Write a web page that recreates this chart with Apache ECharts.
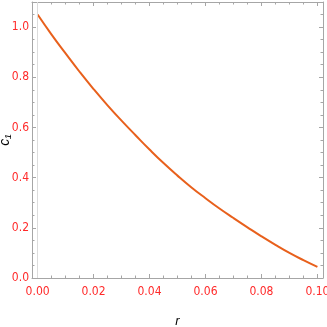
<!DOCTYPE html>
<html>
<head>
<meta charset="utf-8">
<script src="https://cdn.jsdelivr.net/npm/echarts@6/dist/echarts.min.js"></script>
<style>html,body{margin:0;padding:0;background:#fff}#c{width:327px;height:327px}</style>
</head>
<body>
<div id="c"></div>
<script>
// r values (x) and c1 values (y)
const rVals = [0, 0.005, 0.01, 0.015, 0.02, 0.025, 0.03, 0.035, 0.04, 0.045, 0.05, 0.055, 0.06, 0.065, 0.07, 0.075, 0.08, 0.085, 0.09, 0.095, 0.1];
const c1Vals = [1.050, 0.970, 0.895, 0.822, 0.753, 0.688, 0.627, 0.569, 0.512, 0.458, 0.408, 0.361, 0.318, 0.277, 0.239, 0.202, 0.166, 0.132, 0.100, 0.071, 0.044];

const xMajor = [0, 0.02, 0.04, 0.06, 0.08, 0.10];
const xMinor = [0.005, 0.01, 0.015, 0.025, 0.03, 0.035, 0.045, 0.05, 0.055, 0.065, 0.07, 0.075, 0.085, 0.09, 0.095];
const yMajor = [0, 0.2, 0.4, 0.6, 0.8, 1.0];
const yMinor = [0.05, 0.1, 0.15, 0.25, 0.3, 0.35, 0.45, 0.5, 0.55, 0.65, 0.7, 0.75, 0.85, 0.9, 0.95, 1.05];

const frameColor = '#a6a6a6';
const labelColor = '#ff2a2a';
const labelFont = "'Liberation Sans Narrow','DejaVu Sans Condensed','Liberation Sans',sans-serif";
const X_MIN = -0.002, X_MAX = 0.102, Y_MIN = 0, Y_MAX = 1.1;

function xAx(pos, vals, len, showLine, showLabel, extra) {
  return Object.assign({
    type: 'value', position: pos, min: X_MIN, max: X_MAX, gridIndex: 0,
    axisLine: {show: showLine, onZero: false, lineStyle: {color: frameColor, width: 1}},
    axisTick: {show: true, inside: true, length: len, customValues: vals, lineStyle: {color: frameColor}},
    axisLabel: showLabel ? {show: true, customValues: vals, color: labelColor, fontSize: 12, fontFamily: labelFont, margin: 8, formatter: v => v.toFixed(2)} : {show: false},
    splitLine: {show: false}
  }, extra || {});
}
function yAx(pos, vals, len, showLine, showLabel, extra) {
  return Object.assign({
    type: 'value', position: pos, min: Y_MIN, max: Y_MAX, gridIndex: 0,
    axisLine: {show: showLine, onZero: false, lineStyle: {color: frameColor, width: 1}},
    axisTick: {show: true, inside: true, length: len, customValues: vals, lineStyle: {color: frameColor}},
    axisLabel: showLabel ? {show: true, customValues: vals, color: labelColor, fontSize: 12, fontFamily: labelFont, margin: 3, formatter: v => v.toFixed(1)} : {show: false},
    splitLine: {show: false}
  }, extra || {});
}

const chart = echarts.init(document.getElementById('c'), null, {renderer: 'canvas'});
chart.setOption({
  animation: false,
  backgroundColor: '#fff',
  grid: {left: 32, top: 2, width: 291, height: 276, containLabel: false, outerBoundsMode: 'none'},
  xAxis: [
    xAx('bottom', xMajor, 4, true, true, {
      name: 'r', nameLocation: 'middle', nameGap: 37, nameMoveOverlap: false,
      nameTextStyle: {color: '#000', fontSize: 13, fontStyle: 'italic', fontFamily: "'Liberation Sans',sans-serif"}
    }),
    xAx('bottom', xMinor, 2.5, false, false),
    xAx('top', xMajor, 4, true, false),
    xAx('top', xMinor, 2.5, false, false)
  ],
  yAxis: [
    yAx('left', yMajor, 4, true, true, {
      name: 'c\u2081', nameLocation: 'middle', nameGap: 20, nameRotate: 90, nameMoveOverlap: false,
      nameTextStyle: {color: '#000', fontSize: 14, fontStyle: 'italic', fontFamily: "'Liberation Sans',sans-serif"}
    }),
    yAx('left', yMinor, 2.5, false, false),
    yAx('right', yMajor, 4, true, false),
    yAx('right', yMinor, 2.5, false, false)
  ],
  series: [{
    type: 'line',
    xAxisIndex: 0, yAxisIndex: 0,
    data: rVals.map((r, i) => [r, c1Vals[i]]),
    smooth: true,
    showSymbol: false,
    lineStyle: {color: '#e8601c', width: 2},
    markLine: {
      silent: true, symbol: 'none', label: {show: false},
      lineStyle: {color: '#dcdcdc', width: 1, type: 'solid'},
      data: [{xAxis: 0}]
    },
    z: 3
  }]
});
</script>
</body>
</html>
